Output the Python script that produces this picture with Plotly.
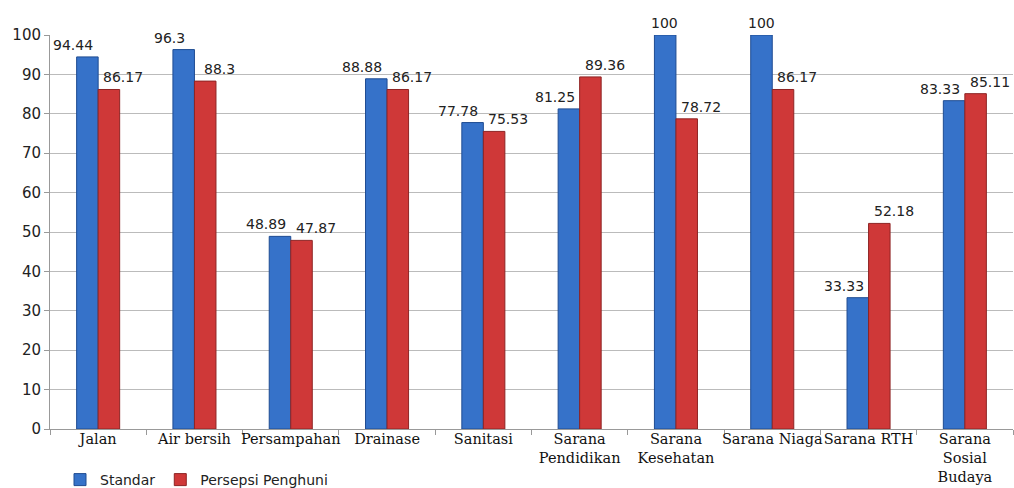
import plotly.graph_objects as go

categories = ["Jalan", "Air bersih", "Persampahan", "Drainase", "Sanitasi",
              "Sarana<br>Pendidikan", "Sarana<br>Kesehatan", "Sarana Niaga",
              "Sarana RTH", "Sarana<br>Sosial<br>Budaya"]
standar = [94.44, 96.3, 48.89, 88.88, 77.78, 81.25, 100, 100, 33.33, 83.33]
persepsi = [86.17, 88.3, 47.87, 86.17, 75.53, 89.36, 78.72, 86.17, 52.18, 85.11]
standar_labels = ["94.44", "96.3", "48.89", "88.88", "77.78", "81.25", "100", "100", "33.33", "83.33"]
persepsi_labels = ["86.17", "88.3", "47.87", "86.17", "75.53", "89.36", "78.72", "86.17", "52.18", "85.11"]
y_ticks = list(range(0, 101, 10))

sans = "DejaVu Sans, Verdana, sans-serif"
label_font = dict(family=sans, size=14, color="#222222")

fig = go.Figure()
fig.add_trace(go.Bar(
    x=categories, y=standar, name="Standar",
    marker=dict(color="#3672C9", line=dict(color="#1F4C92", width=1)),
))
fig.add_trace(go.Bar(
    x=categories, y=persepsi, name="Persepsi Penghuni",
    marker=dict(color="#CF3838", line=dict(color="#8E2424", width=1)),
))

# data labels placed like the original (nudged apart to avoid collisions)
for cat, v, lab in zip(categories, standar, standar_labels):
    shift = -11 if v >= 100 else -25
    fig.add_annotation(x=cat, y=v, text=lab, showarrow=False, xshift=shift,
                       yanchor="bottom", yshift=2, font=label_font)
for cat, v, lab in zip(categories, persepsi, persepsi_labels):
    fig.add_annotation(x=cat, y=v, text=lab, showarrow=False, xshift=25,
                       yanchor="bottom", yshift=2, font=label_font)

fig.update_layout(
    width=1014, height=488,
    margin=dict(l=50, r=1, t=35, b=59),
    paper_bgcolor="white", plot_bgcolor="white",
    barmode="group", bargap=0.553, bargroupgap=0,
    showlegend=True,
    legend=dict(orientation="h", x=60 / 1014, xref="container", xanchor="left",
                y=8 / 488, yref="container", yanchor="middle",
                font=dict(family=sans, size=14, color="#222222"),
                itemwidth=30, tracegroupgap=0, bgcolor="rgba(0,0,0,0)"),
    font=dict(family=sans, color="#222222"),
)
fig.update_xaxes(
    type="category", tickson="boundaries", ticks="outside", ticklen=5, tickcolor="#999999",
    showline=True, linecolor="#999999", linewidth=1, showgrid=False, automargin=False,
    tickfont=dict(family="DejaVu Serif, Liberation Serif, serif", size=14.5, color="#111111"),
    tickangle=0, ticklabelstandoff=-3,
)
fig.update_yaxes(
    range=[0, 100], tickvals=y_ticks, ticks="outside", ticklen=5, tickcolor="#999999",
    showline=True, linecolor="#999999", linewidth=1, automargin=False,
    showgrid=True, gridcolor="#BBBBBB", gridwidth=1, zeroline=False,
    tickfont=dict(family=sans, size=15, color="#222222"),
)

fig.write_html("out.html")
